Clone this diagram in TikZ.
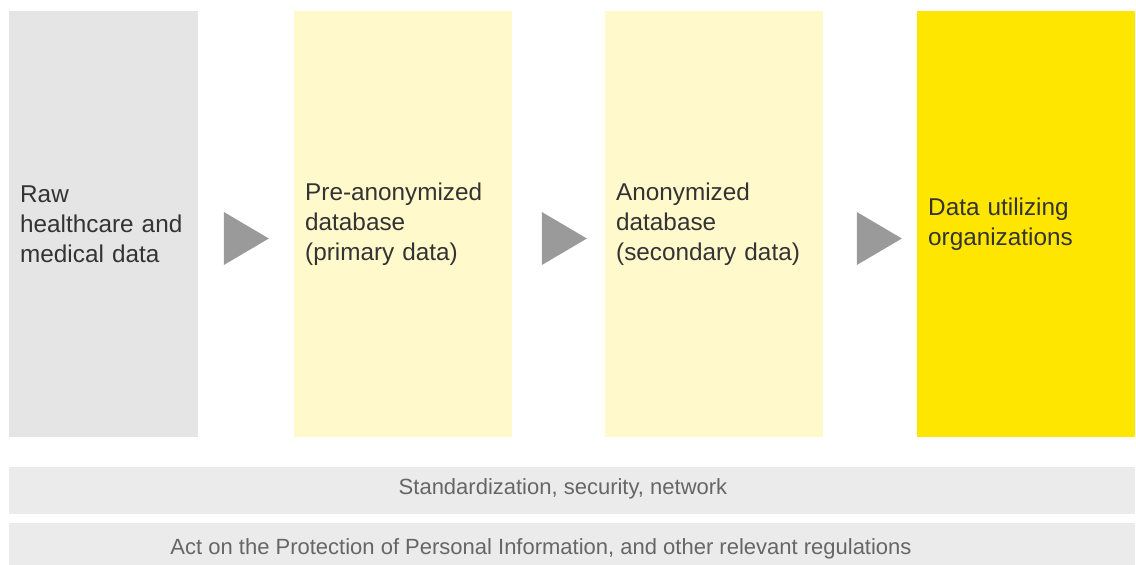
\documentclass[tikz,border=0pt]{standalone}
\usepackage{fontspec}
\setmainfont{Liberation Sans}
\usetikzlibrary{shapes.geometric}
\definecolor{boxgray}{HTML}{E5E5E5}
\definecolor{paleyellow}{HTML}{FFF9CC}
\definecolor{brightyellow}{HTML}{FFE600}
\definecolor{bargray}{HTML}{EBEBEB}
\definecolor{arrowgray}{HTML}{9A9A9A}
\definecolor{textdark}{HTML}{333333}
\definecolor{textbar}{HTML}{666666}
\tikzset{
  x=1pt, y=-1pt,
  stage/.style={draw=none, minimum height=426pt, text width=#1, align=left,
    inner xsep=11pt, anchor=north west, font=\fontsize{24.3}{30}\selectfont, text=textdark},
  chevron/.style={isosceles triangle, isosceles triangle stretches=true, fill=arrowgray,
    draw=none, minimum height=45pt, minimum width=53pt, inner sep=0pt, anchor=center},
  band/.style={fill=bargray, draw=none, anchor=north west, minimum width=1126pt, inner sep=0pt},
  bandtext/.style={text=textbar, font=\fontsize{22}{26}\selectfont}
}
\begin{document}
\begin{tikzpicture}
\useasboundingbox (0,0) rectangle (1136,565);
\fill[white] (0,0) rectangle (1136,565);
\node[stage=167pt, fill=boxgray, minimum width=189pt] (raw) at (9,11) {Raw\\healthcare\ and\\medical\ data};
\node[stage=196pt, fill=paleyellow, minimum width=218pt] (pre) at (294,11) {Pre-anonymized\\database\\(primary\ data)};
\node[stage=196pt, fill=paleyellow, minimum width=217pt] (anon) at (605,11) {Anonymized\\database\\(secondary\ data)};
\node[stage=196pt, fill=brightyellow, minimum width=218pt] (util) at (917,11) {Data utilizing\\organizations};
\node[chevron] (a1) at (239,238.5) {};
\node[chevron] (a2) at (557,238.5) {};
\node[chevron] (a3) at (872,238.5) {};
\begin{scope}
\clip (0,0) rectangle (1136,565);
\node[band, minimum height=47pt] (std) at (9,467) {};
\node[bandtext] (stdt) at (563,489) {Standardization, security, network};
\node[band, minimum height=48pt] (act) at (9,523) {};
\node[bandtext] (actt) at (541,549) {Act on the Protection of Personal Information, and other relevant regulations};
\end{scope}
\end{tikzpicture}
\end{document}
